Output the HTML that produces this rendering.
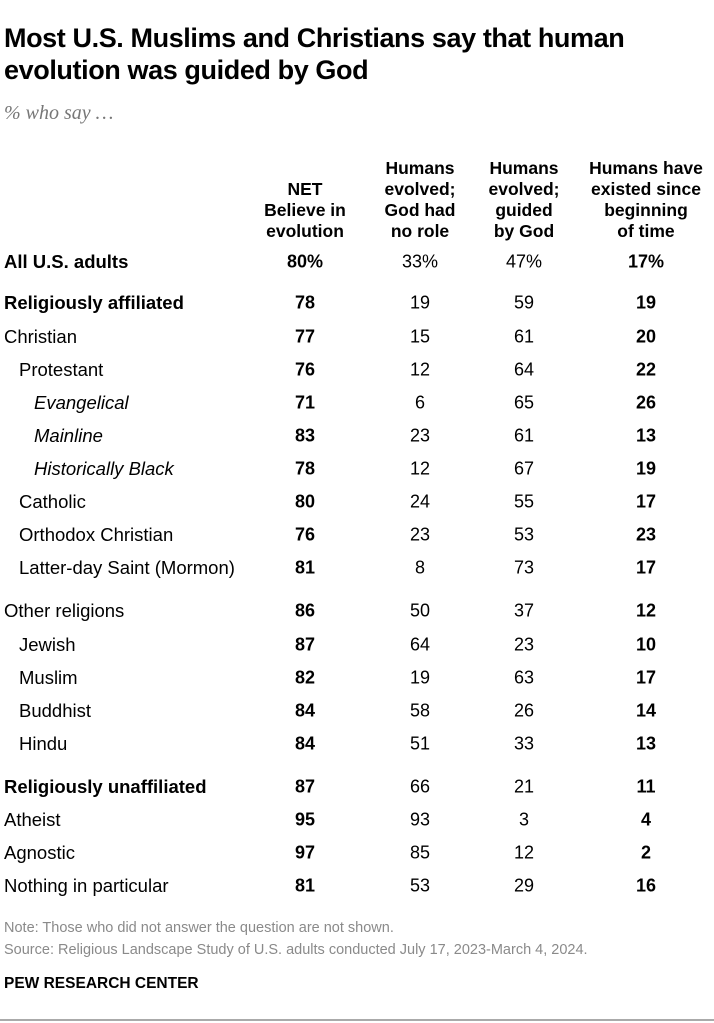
<!DOCTYPE html>
<html><head><meta charset="utf-8">
<style>
body{margin:0;width:714px;height:1023px;background:#fff;font-family:"Liberation Sans",sans-serif;color:#000;position:relative;overflow:hidden}
.a{position:absolute;white-space:nowrap}
#title{left:4px;top:22px;font-size:27px;font-weight:bold;line-height:32px;letter-spacing:-0.4px}
#sub{left:4px;top:102px;font-size:20px;font-style:italic;color:#777;font-family:"Liberation Serif",serif}
.h{font-size:17.5px;font-weight:bold;line-height:21px;text-align:center;transform:translateX(-50%);bottom:781px}
.lab{font-size:18.5px;transform:translateY(-50%)}
.v{font-size:18px;transform:translate(-50%,-50%)}
.b{font-weight:bold}
.note{left:4px;font-size:14.5px;color:#8a8a8a;transform:translateY(-50%)}
</style></head><body>
<div class="a" id="title">Most U.S. Muslims and Christians say that human<br>evolution was guided by God</div>
<div class="a" id="sub">% who say …</div>
<div class="a h" style="left:305px">NET<br>Believe in<br>evolution</div>
<div class="a h" style="left:420px">Humans<br>evolved;<br>God had<br>no role</div>
<div class="a h" style="left:524px">Humans<br>evolved;<br>guided<br>by God</div>
<div class="a h" style="left:646px">Humans have<br>existed since<br>beginning<br>of time</div>
<div id="tbl"></div>
<div class="a note" style="top:928px">Note: Those who did not answer the question are not shown.</div>
<div class="a note" style="top:950px">Source: Religious Landscape Study of U.S. adults conducted July 17, 2023-March 4, 2024.</div>
<div class="a" style="left:4px;top:975px;font-size:15.5px;font-weight:bold">PEW RESEARCH CENTER</div>
<div class="a" style="left:0;top:1019px;width:714px;height:2px;background:#aaa"></div>
<script>
const labels=["All U.S. adults","Religiously affiliated","Christian","Protestant","Evangelical","Mainline","Historically Black","Catholic","Orthodox Christian","Latter-day Saint (Mormon)","Other religions","Jewish","Muslim","Buddhist","Hindu","Religiously unaffiliated","Atheist","Agnostic","Nothing in particular"];
const netVals=[80,78,77,76,71,83,78,80,76,81,86,87,82,84,84,87,95,97,81];
const noRoleVals=[33,19,15,12,6,23,12,24,23,8,50,64,19,58,51,66,93,85,53];
const guidedVals=[47,59,61,64,65,61,67,55,53,73,37,23,63,26,33,21,3,12,29];
const existedVals=[17,19,20,22,26,13,19,17,23,17,12,10,17,14,13,11,4,2,16];
const indent=[0,0,0,1,2,2,2,1,1,1,0,1,1,1,1,0,0,0,0];
const boldLabel=[1,1,0,0,0,0,0,0,0,0,0,0,0,0,0,1,0,0,0];
const rowY=[262,303,337,370,403,436,469,502,535,568,611,645,678,711,744,787,820,853,886];
const colX=[305,420,524,646];
const tbl=document.getElementById('tbl');
function mk(cls,txt,x,y,name){const d=document.createElement('div');d.className='a '+cls;d.textContent=txt;d.style.left=x+'px';d.style.top=y+'px';


tbl.appendChild(d);return d;}
labels.forEach((l,i)=>{
  const d=mk('lab'+(boldLabel[i]?' b':''),l,4+indent[i]*15,rowY[i],'row-label');
  if(indent[i]==2)d.style.fontStyle='italic';
  const pct=i==0?'%':'';
  mk('v b',netVals[i]+pct,colX[0],rowY[i],'net-value');
  mk('v',noRoleVals[i]+pct,colX[1],rowY[i],'no-role-value');
  mk('v',guidedVals[i]+pct,colX[2],rowY[i],'guided-value');
  mk('v b',existedVals[i]+pct,colX[3],rowY[i],'existed-value');
});
</script>
</body></html>
